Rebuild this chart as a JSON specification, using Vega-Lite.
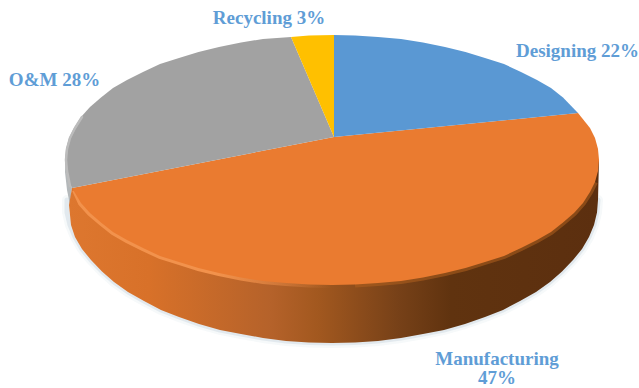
{
  "$schema": "https://vega.github.io/schema/vega-lite/v6.json",
  "width": 639,
  "height": 388,
  "padding": 0,
  "autosize": "none",
  "background": "white",
  "config": {"view": {"stroke": null}},
  "datasets": {
    "wallBase": [
      {"i":0,"px":598,"py":200},{"i":1,"px":597,"py":212.5},{"i":2,"px":594,"py":225},{"i":3,"px":589,"py":237},{"i":4,"px":582,"py":249},{"i":5,"px":573,"py":260},{"i":6,"px":562,"py":271.5},{"i":7,"px":550,"py":282},{"i":8,"px":536,"py":292},{"i":9,"px":520,"py":301},{"i":10,"px":503,"py":310},{"i":11,"px":485,"py":317},{"i":12,"px":465,"py":324},{"i":13,"px":444,"py":330},{"i":14,"px":423,"py":334},{"i":15,"px":401,"py":338},{"i":16,"px":378,"py":341},{"i":17,"px":355,"py":342.5},{"i":18,"px":332,"py":343},{"i":19,"px":309,"py":342.5},{"i":20,"px":286,"py":341},{"i":21,"px":263,"py":338},{"i":22,"px":241,"py":334},{"i":23,"px":220,"py":330},{"i":24,"px":199,"py":324},{"i":25,"px":179,"py":317},{"i":26,"px":161,"py":310},{"i":27,"px":144,"py":301},{"i":28,"px":128,"py":292},{"i":29,"px":114,"py":282},{"i":30,"px":102,"py":271.5},{"i":31,"px":91,"py":260},{"i":32,"px":82,"py":249},{"i":33,"px":75,"py":237},{"i":34,"px":70,"py":225},{"i":35,"px":67,"py":212.5},{"i":36,"px":67,"py":200}
    ],
    "wall": [
      {"i":0,"px":599,"py":160},{"i":1,"px":598,"py":200},{"i":2,"px":597,"py":212.5},{"i":3,"px":594,"py":225},{"i":4,"px":589,"py":237},{"i":5,"px":582,"py":249},{"i":6,"px":573,"py":260},{"i":7,"px":562,"py":271.5},{"i":8,"px":550,"py":282},{"i":9,"px":536,"py":292},{"i":10,"px":520,"py":301},{"i":11,"px":503,"py":310},{"i":12,"px":485,"py":317},{"i":13,"px":465,"py":324},{"i":14,"px":444,"py":330},{"i":15,"px":423,"py":334},{"i":16,"px":401,"py":338},{"i":17,"px":378,"py":341},{"i":18,"px":355,"py":342.5},{"i":19,"px":332,"py":343},{"i":20,"px":309,"py":342.5},{"i":21,"px":286,"py":341},{"i":22,"px":263,"py":338},{"i":23,"px":241,"py":334},{"i":24,"px":220,"py":330},{"i":25,"px":199,"py":324},{"i":26,"px":179,"py":317},{"i":27,"px":161,"py":310},{"i":28,"px":144,"py":301},{"i":29,"px":128,"py":292},{"i":30,"px":114,"py":282},{"i":31,"px":102,"py":271.5},{"i":32,"px":91,"py":260},{"i":33,"px":82,"py":249},{"i":34,"px":75,"py":237},{"i":35,"px":71,"py":225},{"i":36,"px":69,"py":205},{"i":37,"px":72,"py":188},{"i":38,"px":332,"py":180}
    ],
    "greyWall": [
      {"i":0,"px":65,"py":160},{"i":1,"px":66,"py":171},{"i":2,"px":69,"py":182},{"i":3,"px":72,"py":188},{"i":4,"px":70,"py":205},{"i":5,"px":67,"py":190},{"i":6,"px":65,"py":172}
    ],
    "manufacturing": [
      {"i":0,"px":334,"py":137},{"i":1,"px":578,"py":113},{"i":2,"px":590,"py":128},{"i":3,"px":595,"py":138},{"i":4,"px":598,"py":149},{"i":5,"px":599,"py":160},{"i":6,"px":598,"py":171},{"i":7,"px":595,"py":182},{"i":8,"px":590,"py":192},{"i":9,"px":583,"py":203},{"i":10,"px":574,"py":213},{"i":11,"px":563,"py":222.5},{"i":12,"px":551,"py":232},{"i":13,"px":537,"py":240},{"i":14,"px":521,"py":248},{"i":15,"px":504,"py":256},{"i":16,"px":485,"py":262},{"i":17,"px":465.5,"py":268},{"i":18,"px":445,"py":273},{"i":19,"px":423,"py":277.5},{"i":20,"px":401,"py":281},{"i":21,"px":378,"py":283},{"i":22,"px":355,"py":284.5},{"i":23,"px":332,"py":285},{"i":24,"px":309,"py":284.5},{"i":25,"px":286,"py":283},{"i":26,"px":263,"py":281},{"i":27,"px":241,"py":277.5},{"i":28,"px":219,"py":273},{"i":29,"px":198.5,"py":268},{"i":30,"px":179,"py":262},{"i":31,"px":160,"py":256},{"i":32,"px":143,"py":248},{"i":33,"px":127,"py":240},{"i":34,"px":113,"py":232},{"i":35,"px":101,"py":222.5},{"i":36,"px":90,"py":213},{"i":37,"px":81,"py":203},{"i":38,"px":72,"py":188}
    ],
    "designing": [
      {"i":0,"px":334,"py":137},{"i":1,"px":334,"py":35},{"i":2,"px":355,"py":35.5},{"i":3,"px":378,"py":37},{"i":4,"px":401,"py":39},{"i":5,"px":423,"py":42.5},{"i":6,"px":445,"py":47},{"i":7,"px":465.5,"py":52},{"i":8,"px":485,"py":58},{"i":9,"px":504,"py":64},{"i":10,"px":521,"py":72},{"i":11,"px":537,"py":80},{"i":12,"px":551,"py":88},{"i":13,"px":563,"py":97.5},{"i":14,"px":578,"py":113}
    ],
    "recycling": [
      {"i":0,"px":334,"py":137},{"i":1,"px":291,"py":37},{"i":2,"px":309,"py":35.5},{"i":3,"px":334,"py":35}
    ],
    "om": [
      {"i":0,"px":334,"py":137},{"i":1,"px":72,"py":188},{"i":2,"px":69,"py":182},{"i":3,"px":66,"py":171},{"i":4,"px":65,"py":160},{"i":5,"px":66,"py":149},{"i":6,"px":69,"py":138},{"i":7,"px":74,"py":128},{"i":8,"px":81,"py":117},{"i":9,"px":90,"py":107},{"i":10,"px":101,"py":97.5},{"i":11,"px":113,"py":88},{"i":12,"px":127,"py":80},{"i":13,"px":143,"py":72},{"i":14,"px":160,"py":64},{"i":15,"px":179,"py":58},{"i":16,"px":198.5,"py":52},{"i":17,"px":219,"py":47},{"i":18,"px":241,"py":42.5},{"i":19,"px":263,"py":39},{"i":20,"px":291,"py":37}
    ],
    "bevel": [
      {"i":0,"px":75,"py":190},{"i":1,"px":81,"py":203},{"i":2,"px":90,"py":213},{"i":3,"px":101,"py":222.5},{"i":4,"px":113,"py":232},{"i":5,"px":127,"py":240},{"i":6,"px":143,"py":248},{"i":7,"px":160,"py":256},{"i":8,"px":179,"py":262},{"i":9,"px":198.5,"py":268},{"i":10,"px":219,"py":273},{"i":11,"px":241,"py":277.5},{"i":12,"px":263,"py":281},{"i":13,"px":286,"py":283},{"i":14,"px":309,"py":284.5},{"i":15,"px":332,"py":285}
    ],
    "shade": [
      {"i":0,"px":595,"py":182},{"i":1,"px":590,"py":192},{"i":2,"px":583,"py":203},{"i":3,"px":574,"py":213},{"i":4,"px":563,"py":222.5},{"i":5,"px":551,"py":232},{"i":6,"px":537,"py":240},{"i":7,"px":521,"py":248},{"i":8,"px":504,"py":256},{"i":9,"px":485,"py":262},{"i":10,"px":465.5,"py":268},{"i":11,"px":445,"py":273},{"i":12,"px":423,"py":277.5},{"i":13,"px":401,"py":281},{"i":14,"px":378,"py":283},{"i":15,"px":355,"py":284.5}
    ],
    "greyEdge": [
      {"i":0,"px":70,"py":186},{"i":1,"px":67,"py":171},{"i":2,"px":66,"py":160},{"i":3,"px":67,"py":149},{"i":4,"px":70,"py":138},{"i":5,"px":75,"py":128},{"i":6,"px":82,"py":117}
    ],
    "labels": [
      {"label":"Recycling 3%","share":3,"px":269,"py":24},
      {"label":"Designing 22%","share":22,"px":577.5,"py":57},
      {"label":"O&M 28%","share":28,"px":54.5,"py":86},
      {"label":"Manufacturing","share":47,"px":497,"py":365},
      {"label":"47%","share":47,"px":497,"py":384}
    ]
  },
  "encoding": {
    "x": {"field":"px","type":"quantitative","axis":null,"scale":{"domain":[0,639],"nice":false,"zero":false}},
    "y": {"field":"py","type":"quantitative","axis":null,"scale":{"domain":[388,0],"nice":false,"zero":false}}
  },
  "layer": [
    {"data":{"name":"wallBase"},"mark":{"type":"line","stroke":"#d3dfe6","strokeWidth":10,"opacity":0.2,"strokeCap":"round"},"encoding":{"order":{"field":"i"}}},
    {"data":{"name":"wallBase"},"mark":{"type":"line","stroke":"#c5d3dc","strokeWidth":5,"opacity":0.4,"strokeCap":"round"},"encoding":{"order":{"field":"i"}}},
    {"data":{"name":"greyWall"},"mark":{"type":"line","fill":"#b4b8ba","strokeOpacity":0},"encoding":{"order":{"field":"i"}}},
    {"data":{"name":"wall"},"mark":{"type":"line","strokeOpacity":0,"fill":{"gradient":"linear","x1":0,"x2":1,"y1":0,"y2":0,"stops":[
      {"offset":0,"color":"#dd772f"},{"offset":0.15,"color":"#d87129"},{"offset":0.38,"color":"#b5622a"},{"offset":0.47,"color":"#a2581f"},{"offset":0.62,"color":"#774118"},{"offset":0.72,"color":"#60330f"},{"offset":1,"color":"#5c2f0f"}]}},"encoding":{"order":{"field":"i"}}},
    {"data":{"name":"shade"},"mark":{"type":"line","stroke":"#b0601f","strokeWidth":6,"opacity":0.55},"encoding":{"order":{"field":"i"}}},
    {"data":{"name":"bevel"},"mark":{"type":"line","strokeWidth":6,"stroke":{"gradient":"linear","x1":0,"x2":1,"y1":0,"y2":0,"stops":[{"offset":0,"color":"#f2924c"},{"offset":0.55,"color":"#f2924c"},{"offset":1,"color":"rgba(242,146,76,0)"}]}},"encoding":{"order":{"field":"i"}}},
    {"data":{"name":"manufacturing"},"mark":{"type":"line","fill":"#ea7b30","strokeOpacity":0},"encoding":{"order":{"field":"i"}}},
    {"data":{"name":"designing"},"mark":{"type":"line","fill":"#5a98d3","strokeOpacity":0},"encoding":{"order":{"field":"i"}}},
    {"data":{"name":"om"},"mark":{"type":"line","fill":"#a2a2a2","strokeOpacity":0},"encoding":{"order":{"field":"i"}}},
    {"data":{"name":"recycling"},"mark":{"type":"line","fill":"#ffc000","strokeOpacity":0},"encoding":{"order":{"field":"i"}}},
    {"data":{"name":"greyEdge"},"mark":{"type":"line","stroke":"#bcbcbc","strokeWidth":2.5,"strokeCap":"round"},"encoding":{"order":{"field":"i"}}},
    {"data":{"name":"labels"},"mark":{"type":"text","font":"Liberation Serif","fontWeight":"bold","fontSize":19,"color":"#5f9dd6","align":"center","baseline":"alphabetic"},"encoding":{"text":{"field":"label"}}}
  ]
}
